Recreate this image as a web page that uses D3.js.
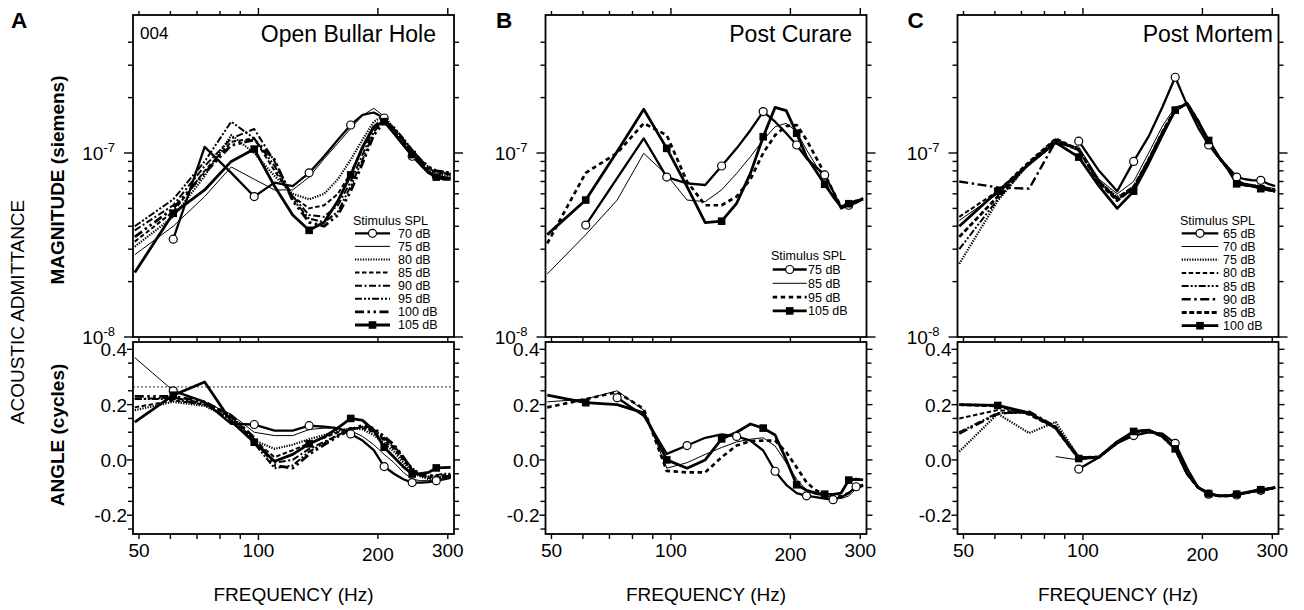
<!DOCTYPE html>
<html><head><meta charset="utf-8">
<script src="https://cdn.jsdelivr.net/npm/d3@7"></script>
<style>
body{margin:0;background:#fff;}
svg text{font-family:"Liberation Sans",Arial,Helvetica,sans-serif;fill:#000;}
</style></head><body>
<svg id="chart" width="1304" height="610"></svg>
<script>
// ---------------- DATA ----------------
// frequency grid (Hz), 12.2 Hz steps
const freqHz = [48.8, 61.0, 73.2, 85.4, 97.6, 109.8, 122.0, 134.2, 146.4, 158.6, 170.8, 183.0, 195.2, 207.4, 219.6, 231.8, 244.0, 256.2, 268.4, 280.6, 292.8, 305.0];

// magnitudes in nS (1e-9 siemens); angles in cycles
// Panel A : Open Bullar Hole
const legendA = ["70 dB", "75 dB", "80 dB", "85 dB", "90 dB", "95 dB", "100 dB", "105 dB"];
const magA70  = [null, 34, 108, 78, 58, 69, 66, 78, 96, 118, 142, 161, 166, 155, 128, 110, 96, 86, 78, 75, 74, 73];
const magA75  = [28, 40, 58, 84, 72, 63, 63, 74, 93, 113, 136, 160, 175, 158, 131, 112, 98, 88, 80, 76, 74, 73];
const magA80  = [31, 45, 75, 125, 100, 75, 60, 56, 60, 72, 92, 118, 148, 160, 135, 115, 100, 88, 80, 77, 76, 75];
const magA85  = [33, 48, 80, 115, 120, 80, 58, 50, 52, 60, 78, 105, 140, 155, 135, 116, 100, 90, 82, 78, 77, 76];
const magA90  = [38, 52, 85, 120, 135, 90, 58, 46, 45, 52, 70, 98, 135, 152, 135, 117, 102, 90, 82, 79, 78, 77];
const magA95  = [40, 56, 90, 148, 120, 85, 56, 44, 42, 48, 66, 92, 130, 150, 138, 120, 104, 92, 84, 80, 79, 78];
const magA100 = [35, 50, 78, 110, 118, 92, 55, 42, 40, 46, 62, 88, 125, 148, 136, 118, 103, 92, 84, 80, 79, 78];
const magA105 = [22.4, 47, 63, 90, 105, 66, 46, 38, 42, 55, 76, 108, 139, 148, 128, 111, 98, 87, 78, 74, 72, 72];
const angA70  = [null, 0.25, 0.21, 0.13, 0.128, 0.106, 0.106, 0.124, 0.12, 0.115, 0.094, 0.07, 0.035, -0.024, -0.05, -0.07, -0.082, -0.082, -0.08, -0.075, -0.07, -0.065];
const angA75  = [0.37, 0.25, 0.21, 0.165, 0.10, 0.088, 0.088, 0.11, 0.115, 0.115, 0.105, 0.085, 0.055, 0.02, -0.01, -0.045, -0.07, -0.075, -0.075, -0.07, -0.065, -0.06];
const angA80  = [0.18, 0.21, 0.195, 0.15, 0.07, 0.04, 0.055, 0.075, 0.09, 0.105, 0.115, 0.11, 0.09, 0.06, 0.03, -0.01, -0.045, -0.06, -0.07, -0.065, -0.06, -0.06];
const angA85  = [0.19, 0.215, 0.20, 0.155, 0.07, 0.01, 0.035, 0.06, 0.08, 0.10, 0.115, 0.115, 0.10, 0.07, 0.04, 0.0, -0.04, -0.055, -0.065, -0.06, -0.055, -0.055];
const angA90  = [0.22, 0.225, 0.205, 0.16, 0.075, -0.01, 0.0, 0.04, 0.065, 0.09, 0.11, 0.12, 0.105, 0.075, 0.045, 0.005, -0.035, -0.055, -0.065, -0.065, -0.06, -0.06];
const angA95  = [0.22, 0.22, 0.20, 0.145, 0.06, -0.03, -0.02, 0.03, 0.06, 0.09, 0.11, 0.12, 0.11, 0.08, 0.05, 0.01, -0.03, -0.05, -0.06, -0.055, -0.05, -0.05];
const angA100 = [0.23, 0.23, 0.21, 0.16, 0.08, -0.02, -0.03, 0.02, 0.055, 0.085, 0.11, 0.125, 0.115, 0.085, 0.055, 0.01, -0.035, -0.055, -0.055, -0.06, -0.06, -0.06];
const angA105 = [0.137, 0.234, 0.282, 0.14, 0.064, -0.005, 0.02, 0.058, 0.083, 0.116, 0.15, 0.143, 0.107, 0.046, 0.01, -0.025, -0.051, -0.05, -0.045, -0.029, -0.028, -0.027];
const refAngleA = 0.264;

// Panel B : Post Curare
const legendB = ["75 dB", "85 dB", "95 dB", "105 dB"];
const magB75  = [null, 40.6, 73, 120, 74, 68.4, 67, 85, 106, 133, 168, 148, 128, 110.5, 93.6, 84, 76, 62, 50, 52, 54, 57];
const magB85  = [22, 36, 55.5, 99.6, 76, 55.5, 54.4, 63, 77.5, 95.5, 117.7, 139, 145, 130.5, 104, 86, 71, 58, 50, 52, 53, 56];
const magB95  = [32.3, 78, 100, 145, 125, 70, 52, 52, 58, 72, 100, 125, 140, 142, 118, 95, 77, 62, 51, 52, 54, 56];
const magB105 = [36, 55.5, 102, 173, 106, 65.6, 41.8, 42.6, 53.3, 77.5, 122.6, 177, 170, 128, 95.5, 80, 67.6, 58, 51, 53, 55, 56];
const angB75  = [null, null, 0.225, 0.16, 0.022, 0.052, 0.08, 0.092, 0.085, 0.07, 0.034, -0.041, -0.09, -0.12, -0.13, -0.135, -0.14, -0.144, -0.135, -0.12, -0.097, -0.095];
const angB85  = [0.21, 0.22, 0.25, 0.18, -0.03, -0.01, 0.02, 0.045, 0.065, 0.075, 0.08, 0.05, -0.01, -0.07, -0.11, -0.125, -0.13, -0.135, -0.14, -0.13, -0.105, -0.095];
const angB95  = [0.19, 0.22, 0.245, 0.185, -0.04, -0.045, -0.045, 0.01, 0.052, 0.068, 0.07, 0.07, 0.028, -0.027, -0.081, -0.11, -0.124, -0.13, -0.132, -0.12, -0.10, -0.09];
const angB105 = [0.234, 0.207, 0.20, 0.17, 0.0, -0.03, 0.0, 0.076, 0.10, 0.13, 0.115, 0.09, 0.0, -0.09, -0.11, -0.12, -0.124, -0.125, -0.12, -0.073, -0.07, -0.072];

// Panel C : Post Mortem
const legendC = ["65 dB", "70 dB", "75 dB", "80 dB", "85 dB", "90 dB", "85 dB", "100 dB"];
const magC65  = [null, null, null, null, 116, 80, 62, 90, 123, 178, 258, 182, 137, 110.5, 95, 84, 74, 72, 71, 71, 68, 66];
const magC70  = [43, 60, 86, 112, 108, 72, 60, 70, 100, 140, 178, 185, 150, 114, 96, 83, 71, 68, 67, 66, 65, 64];
const magC75  = [25, 55, 88, 118, 104, 70, 58, 64, 90, 128, 170, 186, 148, 113, 95, 82, 70, 68, 67, 66, 64, 63];
const magC80  = [45, 62, 90, 120, 105, 70, 57, 66, 92, 130, 172, 185, 149, 113, 95, 82, 70, 68, 66, 65, 64, 62];
const magC85  = [30, 56, 88, 117, 103, 69, 56, 64, 90, 127, 170, 186, 148, 113, 95, 82, 69, 67, 66, 65, 64, 62];
const magC90  = [70, 65, 64, 116, 104, 70, 56, 64, 91, 128, 171, 186, 148, 113, 95, 82, 70, 68, 66, 65, 63, 62];
const magC85b = [35, 58, 88, 118, 104, 69, 55, 65, 92, 130, 172, 186, 149, 113, 95, 82, 70, 67, 66, 65, 63, 62];
const magC100 = [40, 62, 87, 114, 95, 66, 50, 62, 88, 125, 171, 186, 148, 117, 96, 82, 68, 67, 66, 64, 63, 62];
const angC65  = [null, null, null, null, -0.033, 0.01, 0.06, 0.088, 0.10, 0.095, 0.06, -0.03, -0.10, -0.124, -0.13, -0.13, -0.127, -0.12, -0.115, -0.11, -0.107, -0.10];
const angC70  = [null, null, null, 0.012, 0.0, 0.01, 0.065, 0.10, 0.107, 0.09, 0.045, -0.045, -0.10, -0.12, -0.13, -0.13, -0.125, -0.12, -0.113, -0.11, -0.105, -0.10];
const angC75  = [0.03, 0.167, 0.097, 0.137, 0.01, 0.01, 0.06, 0.10, 0.105, 0.085, 0.04, -0.05, -0.10, -0.12, -0.13, -0.13, -0.125, -0.12, -0.115, -0.11, -0.105, -0.10];
const angC80  = [0.15, 0.18, 0.17, 0.12, 0.01, 0.012, 0.065, 0.10, 0.107, 0.088, 0.042, -0.05, -0.10, -0.12, -0.13, -0.13, -0.125, -0.12, -0.113, -0.11, -0.105, -0.10];
const angC85  = [0.10, 0.17, 0.17, 0.12, 0.01, 0.01, 0.063, 0.10, 0.106, 0.087, 0.04, -0.05, -0.10, -0.12, -0.13, -0.13, -0.125, -0.12, -0.113, -0.11, -0.105, -0.10];
const angC90  = [0.095, 0.167, 0.175, 0.12, 0.01, 0.01, 0.065, 0.10, 0.107, 0.088, 0.042, -0.048, -0.10, -0.12, -0.13, -0.13, -0.125, -0.12, -0.113, -0.11, -0.105, -0.10];
const angC85b = [0.20, 0.195, 0.165, 0.115, 0.005, 0.01, 0.065, 0.10, 0.107, 0.085, 0.04, -0.05, -0.10, -0.12, -0.13, -0.13, -0.125, -0.12, -0.113, -0.11, -0.105, -0.10];
const angC100 = [0.20, 0.197, 0.17, 0.115, 0.005, 0.01, 0.065, 0.103, 0.108, 0.085, 0.04, -0.05, -0.10, -0.122, -0.13, -0.13, -0.124, -0.118, -0.113, -0.108, -0.104, -0.10];

// axis ticks
const freqLabelTicks = [50, 100, 200, 300];
const freqMinorTicks = [60, 70, 80, 90];
const magMajorTicks = [1e-8, 1e-7];
const magMinorTicks = [2e-8, 3e-8, 4e-8, 5e-8, 6e-8, 7e-8, 8e-8, 9e-8, 2e-7, 3e-7, 4e-7];
const angLabelTicks = [-0.2, 0.0, 0.2, 0.4];
const angMinorTicks = [-0.25, -0.15, -0.1, -0.05, 0.05, 0.1, 0.15, 0.25, 0.3, 0.35];

// ---------------- STYLES ----------------
const ST = {
  circ:   {w: 2.3, dash: null, marker: "circle"},
  thin:   {w: 1.0, dash: null},
  dotted: {w: 2.2, dash: "1.3,1.3"},
  dashed: {w: 2.0, dash: "4.5,2.5"},
  dashdot:{w: 2.0, dash: "7,2.5,2,2.5"},
  dashdotdot: {w: 2.0, dash: "7,2,2,2,2,2"},
  ldashdotdot:{w: 2.8, dash: "9,3.5,2.5,3.5,2.5,3.5"},
  ldashdot: {w: 2.4, dash: "9,3.5,2.5,3.5"},
  thickdash:{w: 2.7, dash: "4.5,3.5"},
  densedash:{w: 2.8, dash: "5,2.5"},
  sq:     {w: 2.8, dash: null, marker: "square"}
};

const panels = [
  {letter: "A", letterX: 11, left: 133, title: "Open Bullar Hole", titleX: 436, tag: "004",
   legend: {x: 353, titleY: 225, y0: 233.3, dy: 13.1, lx0: 355, lx1: 390, tx: 398},
   series: [
     {label: legendA[0], mag: magA70,  ang: angA70,  st: "circ"},
     {label: legendA[1], mag: magA75,  ang: angA75,  st: "thin"},
     {label: legendA[2], mag: magA80,  ang: angA80,  st: "dotted"},
     {label: legendA[3], mag: magA85,  ang: angA85,  st: "dashed"},
     {label: legendA[4], mag: magA90,  ang: angA90,  st: "dashdot"},
     {label: legendA[5], mag: magA95,  ang: angA95,  st: "dashdotdot"},
     {label: legendA[6], mag: magA100, ang: angA100, st: "ldashdotdot"},
     {label: legendA[7], mag: magA105, ang: angA105, st: "sq"}
   ], refAngle: refAngleA, yLabels: true},
  {letter: "B", letterX: 496, left: 545.5, title: "Post Curare", titleX: 852,
   legend: {x: 771, titleY: 260, y0: 269.5, dy: 13.8, lx0: 772.7, lx1: 806.7, tx: 808},
   series: [
     {label: legendB[0], mag: magB75,  ang: angB75,  st: "circ"},
     {label: legendB[1], mag: magB85,  ang: angB85,  st: "thin"},
     {label: legendB[2], mag: magB95,  ang: angB95,  st: "thickdash"},
     {label: legendB[3], mag: magB105, ang: angB105, st: "sq"}
   ]},
  {letter: "C", letterX: 907.5, left: 957.5, title: "Post Mortem", titleX: 1273,
   legend: {x: 1180, titleY: 225, y0: 233.3, dy: 13.2, lx0: 1181.7, lx1: 1218.3, tx: 1223},
   series: [
     {label: legendC[0], mag: magC65,  ang: angC65,  st: "circ"},
     {label: legendC[1], mag: magC70,  ang: angC70,  st: "thin"},
     {label: legendC[2], mag: magC75,  ang: angC75,  st: "dotted"},
     {label: legendC[3], mag: magC80,  ang: angC80,  st: "dashed"},
     {label: legendC[4], mag: magC85,  ang: angC85,  st: "dashdotdot"},
     {label: legendC[5], mag: magC90,  ang: angC90,  st: "ldashdot"},
     {label: legendC[6], mag: magC85b, ang: angC85b, st: "densedash"},
     {label: legendC[7], mag: magC100, ang: angC100, st: "sq"}
   ]}
];

// ---------------- DRAW ----------------
const svg = d3.select("#chart");
const W = 321;
const magTop = 15, magBot = 337, angTop = 342, angBot = 534;
const FS = 19, LFS = 12.5;

function tickLinesY(g, scale, vals, x0, len) {
  g.selectAll(null).data(vals).enter().append("line")
    .attr("x1", x0).attr("x2", x0 + len)
    .attr("y1", d => scale(d)).attr("y2", d => scale(d))
    .attr("stroke", "#000").attr("stroke-width", 1.4);
}
function tickLinesX(g, scale, vals, y0, len) {
  g.selectAll(null).data(vals).enter().append("line")
    .attr("y1", y0).attr("y2", y0 + len)
    .attr("x1", d => scale(d)).attr("x2", d => scale(d))
    .attr("stroke", "#000").attr("stroke-width", 1.4);
}

panels.forEach((p, pi) => {
  const g = svg.append("g");
  const L = p.left, R = p.left + W;
  const x = d3.scaleLog().domain([48.3, 311]).range([L, R]);
  const yM = d3.scaleLog().domain([1e-8, Math.pow(10, -6.25)]).range([magBot, magTop]);
  const yA = d3.scaleLinear().domain([-0.268, 0.4265]).range([angBot, angTop]);

  const cm = "clipM" + pi, ca = "clipA" + pi;
  const defs = svg.append("defs");
  defs.append("clipPath").attr("id", cm).append("rect").attr("x", L).attr("y", magTop).attr("width", W).attr("height", magBot - magTop);
  defs.append("clipPath").attr("id", ca).append("rect").attr("x", L).attr("y", angTop).attr("width", W).attr("height", angBot - angTop);

  g.append("rect").attr("x", L).attr("y", magTop).attr("width", W).attr("height", magBot - magTop)
    .attr("fill", "none").attr("stroke", "#000").attr("stroke-width", 1.8);
  g.append("rect").attr("x", L).attr("y", angTop).attr("width", W).attr("height", angBot - angTop)
    .attr("fill", "none").attr("stroke", "#000").attr("stroke-width", 1.8);

  tickLinesY(g, yM, magMajorTicks, L - 9, 9);
  tickLinesY(g, yM, magMinorTicks, L - 5, 5);
  tickLinesY(g, yM, magMajorTicks, R, 9);
  tickLinesY(g, yM, magMinorTicks, R, 5);
  tickLinesY(g, yA, angLabelTicks, L - 6, 6);
  tickLinesY(g, yA, angMinorTicks, L - 5, 5);
  tickLinesY(g, yA, angLabelTicks, R, 6);
  tickLinesY(g, yA, angMinorTicks, R, 5);
  const majX = [100, 200, 300], minX = [50].concat(freqMinorTicks);
  tickLinesX(g, x, majX, magTop - 7, 7);
  tickLinesX(g, x, minX, magTop - 4, 4);
  tickLinesX(g, x, majX, angTop - 5, 5);
  tickLinesX(g, x, minX, angTop - 4, 4);
  tickLinesX(g, x, [100], angBot, 6);
  tickLinesX(g, x, [50, 200, 300].concat(freqMinorTicks), angBot, 5);

  magMajorTicks.forEach(v => {
    const t = g.append("text").attr("x", L - 18).attr("y", yM(v) + 6.5)
      .attr("text-anchor", "end").attr("font-size", FS);
    t.append("tspan").text("10");
    t.append("tspan").attr("font-size", 13).attr("dy", -8).text(String(Math.round(Math.log10(v))));
  });
  angLabelTicks.forEach(v => {
    g.append("text").attr("x", L - 6).attr("y", yA(v) + 7)
      .attr("text-anchor", "end").attr("font-size", FS).text(v.toFixed(1));
  });
  freqLabelTicks.forEach(v => {
    g.append("text").attr("x", x(v)).attr("y", v === 200 ? 561 : 557)
      .attr("text-anchor", "middle").attr("font-size", FS).text(v);
  });
  g.append("text").attr("x", L + W / 2).attr("y", 601).attr("text-anchor", "middle")
    .attr("font-size", FS).text("FREQUENCY (Hz)");

  g.append("text").attr("x", p.letterX).attr("y", 28)
    .attr("font-size", 22.5).attr("font-weight", "bold").text(p.letter);
  g.append("text").attr("x", p.titleX).attr("y", 41.5).attr("text-anchor", "end")
    .attr("font-size", 23).text(p.title);
  if (p.tag) g.append("text").attr("x", L + 7).attr("y", 38.5).attr("font-size", 17).text(p.tag);

  if (p.refAngle != null) {
    g.append("line").attr("x1", L).attr("x2", R).attr("y1", yA(p.refAngle)).attr("y2", yA(p.refAngle))
      .attr("stroke", "#333").attr("stroke-width", 1).attr("stroke-dasharray", "2,2");
  }

  const gm = g.append("g").attr("clip-path", `url(#${cm})`);
  const ga = g.append("g").attr("clip-path", `url(#${ca})`);
  const lineM = d3.line().defined(d => d.v != null).x(d => x(d.f)).y(d => yM(d.v * 1e-9));
  const lineA = d3.line().defined(d => d.v != null).x(d => x(d.f)).y(d => yA(d.v));

  function markerPts(arr) {
    let start = arr.findIndex((v, i) => v != null && i >= 1);
    return arr.map((v, i) => ({f: freqHz[i], v, i})).filter(d => d.v != null && d.i >= start && (d.i - start) % 3 === 0);
  }
  function drawMarker(sel, type, cx, cy) {
    if (type === "circle") {
      sel.append("circle").attr("cx", cx).attr("cy", cy).attr("r", 4)
        .attr("fill", "#fff").attr("stroke", "#000").attr("stroke-width", 1.2);
    } else if (type === "square") {
      sel.append("rect").attr("x", cx - 3.8).attr("y", cy - 3.8).attr("width", 7.6).attr("height", 7.6).attr("fill", "#000");
    }
  }

  p.series.forEach(s => {
    const st = ST[s.st];
    [[gm, s.mag, lineM], [ga, s.ang, lineA]].forEach(([grp, arr, ln]) => {
      const data = arr.map((v, i) => ({f: freqHz[i], v}));
      grp.append("path").attr("d", ln(data)).attr("fill", "none").attr("stroke", "#000")
        .attr("stroke-width", st.w).attr("stroke-dasharray", st.dash)
        .attr("stroke-linejoin", "round");
    });
  });
  p.series.forEach(s => {
    const st = ST[s.st];
    if (!st.marker) return;
    markerPts(s.mag).forEach(d => drawMarker(gm, st.marker, x(d.f), yM(d.v * 1e-9)));
    markerPts(s.ang).forEach(d => drawMarker(ga, st.marker, x(d.f), yA(d.v)));
  });

  const lg = p.legend;
  g.append("text").attr("x", lg.x).attr("y", lg.titleY).attr("font-size", LFS).text("Stimulus SPL");
  p.series.forEach((s, i) => {
    const st = ST[s.st];
    const cy = lg.y0 + i * lg.dy;
    g.append("line").attr("x1", lg.lx0).attr("x2", lg.lx1).attr("y1", cy).attr("y2", cy)
      .attr("stroke", "#000").attr("stroke-width", st.w).attr("stroke-dasharray", st.dash);
    if (st.marker) drawMarker(g, st.marker, (lg.lx0 + lg.lx1) / 2, cy);
    g.append("text").attr("x", lg.tx).attr("y", cy + 4.4).attr("font-size", LFS).text(s.label);
  });

  if (p.yLabels) {
    svg.append("text").attr("transform", "translate(23.5,312) rotate(-90)").attr("text-anchor", "middle")
      .attr("font-size", FS).text("ACOUSTIC ADMITTANCE");
    svg.append("text").attr("transform", "translate(64,180) rotate(-90)").attr("text-anchor", "middle")
      .attr("font-size", FS).attr("font-weight", "bold").text("MAGNITUDE (siemens)");
    svg.append("text").attr("transform", "translate(64,435) rotate(-90)").attr("text-anchor", "middle")
      .attr("font-size", FS).attr("font-weight", "bold").text("ANGLE (cycles)");
  }
});
</script>
</body></html>
